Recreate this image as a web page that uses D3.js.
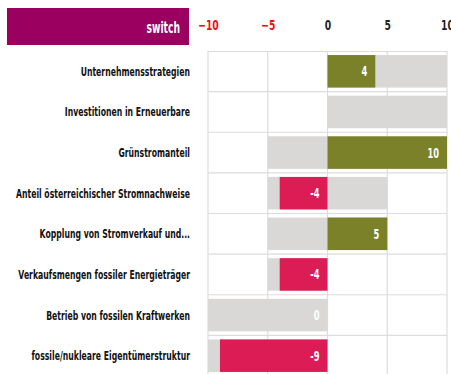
<!DOCTYPE html>
<html>
<head>
<meta charset="utf-8">
<script src="https://cdn.jsdelivr.net/npm/d3@7"></script>
<style>
  html, body { margin: 0; padding: 0; background: #fff; }
  svg { display: block; }
  .cond { font-family: "DejaVu Sans", sans-serif; font-weight: bold; }
</style>
</head>
<body>
<svg id="chart" width="451" height="374"></svg>
<script>
// Criteria, scores and the possible range for each criterion
const categories = [
  "Unternehmensstrategien",
  "Investitionen in Erneuerbare",
  "Grünstromanteil",
  "Anteil österreichischer Stromnachweise",
  "Kopplung von Stromverkauf und...",
  "Verkaufsmengen fossiler Energieträger",
  "Betrieb von fossilen Kraftwerken",
  "fossile/nukleare Eigentümerstruktur"
];
const scores   = [4, null, 10, -4, 5, -4, 0, -9];
const rangeMin = [0, 0, -5, -5, -5, -5, -10, -10];
const rangeMax = [10, 10, 10, 5, 5, 0, 0, 0];
const tickValues = [-10, -5, 0, 5, 10];
const buttonLabel = "switch";

const svg = d3.select("#chart");
const plotLeft = 208, plotRight = 447, plotTop = 51, plotBottom = 376;
const sxAxis = 0.66;  // horizontal squeeze for the condensed lettering
const sxLabel = 0.595;

const x = d3.scaleLinear().domain([-10, 10]).range([plotLeft, plotRight]);
const y = d3.scaleBand().domain(categories).range([plotTop, plotBottom]).paddingInner(0.2).paddingOuter(0.1);

const rows = categories.map((c, i) => ({
  name: c, value: scores[i], lo: rangeMin[i], hi: rangeMax[i]
}));

// toggle button
const btn = svg.append("g").attr("class", "switch");
btn.append("rect").attr("x", 7).attr("y", 8).attr("width", 182).attr("height", 37).attr("fill", "#9b0061");
btn.append("text").attr("class", "cond")
  .attr("transform", `translate(180,33) scale(${sxLabel},1)`)
  .attr("text-anchor", "end").attr("fill", "#fff").attr("font-size", 15.5)
  .text(buttonLabel);

// axis tick labels on top
const axis = d3.axisTop(x).tickValues(tickValues).tickSize(0).tickPadding(0).tickFormat(d3.format("d"));
const axG = svg.append("g").attr("transform", "translate(0,30)").call(axis);
axG.select(".domain").remove();
axG.attr("font-family", null).attr("font-size", null);
axG.selectAll(".tick text")
  .attr("class", "cond")
  .attr("font-size", 14)
  .attr("dy", 0)
  .attr("fill", d => d < 0 ? "#ee1111" : "#222")
  .attr("transform", `scale(${sxAxis},1)`);

// grid: vertical lines at ticks, horizontal lines between rows
const grid = svg.append("g").attr("stroke", "#dcdcdc").attr("stroke-width", 1.2);
grid.selectAll("line.v").data(tickValues).join("line")
  .attr("x1", d => x(d)).attr("x2", d => x(d))
  .attr("y1", plotTop).attr("y2", 374);
const bounds = categories.map(c => y(c) - y.step() * y.paddingInner() / 2);
bounds[0] = plotTop + 0.5;
grid.selectAll("line.h").data(bounds).join("line")
  .attr("x1", plotLeft).attr("x2", plotRight)
  .attr("y1", d => d).attr("y2", d => d);

// possible range bars
svg.append("g").selectAll("rect").data(rows).join("rect")
  .attr("x", d => x(d.lo)).attr("width", d => x(d.hi) - x(d.lo))
  .attr("y", d => y(d.name)).attr("height", y.bandwidth())
  .attr("fill", "#d9d8d6");

// score bars
const scored = rows.filter(d => d.value !== null);
svg.append("g").selectAll("rect").data(scored).join("rect")
  .attr("x", d => x(Math.min(0, d.value))).attr("width", d => Math.abs(x(d.value) - x(0)))
  .attr("y", d => y(d.name)).attr("height", y.bandwidth())
  .attr("fill", d => d.value >= 0 ? "#7b8128" : "#dc1c54");

// score labels
svg.append("g").selectAll("text").data(scored).join("text")
  .attr("class", "cond")
  .attr("transform", d => `translate(${x(Math.max(0, d.value)) - 8},${y(d.name) + y.bandwidth() / 2 + 5}) scale(${sxLabel},1)`)
  .attr("text-anchor", "end").attr("fill", "#fff").attr("font-size", 14)
  .text(d => d.value);

// row labels
svg.append("g").selectAll("text").data(rows).join("text")
  .attr("class", "cond")
  .attr("transform", d => `translate(190,${y(d.name) + y.bandwidth() / 2 + 4.5}) scale(${sxLabel},1)`)
  .attr("text-anchor", "end").attr("fill", "#111").attr("font-size", 13)
  .text(d => d.name);
</script>
</body>
</html>
